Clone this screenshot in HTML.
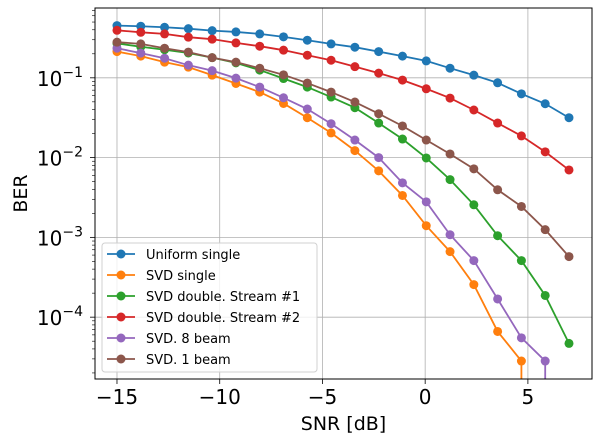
<!DOCTYPE html>
<html><head><meta charset="utf-8"><style>
body{margin:0;background:#fff;}
svg{display:block;font-family:"DejaVu Sans","Liberation Sans",sans-serif;}
</style></head><body>
<svg id="chart" width="600" height="444"></svg>
<script>
const snr = [];
for (let i = 0; i < 20; i++) snr.push(-15 + i * 22 / 19);
const seriesNames = ["Uniform single","SVD single","SVD double. Stream #1","SVD double. Stream #2","SVD. 8 beam","SVD. 1 beam"];
const colors = ["#1f77b4","#ff7f0e","#2ca02c","#d62728","#9467bd","#8c564b"];
const uniformSingle = [0.451,0.443,0.430,0.413,0.390,0.376,0.355,0.326,0.296,0.266,0.242,0.213,0.187,0.163,0.132,0.108,0.0866,0.063,0.0473,0.0316];
const svdSingle = [0.213,0.187,0.157,0.136,0.108,0.0849,0.0662,0.0477,0.0316,0.0204,0.01224,0.00682,0.00335,0.0014,0.000663,0.000256,0.0000662,0.0000282,0,0];
const svdDouble1 = [0.27,0.245,0.225,0.205,0.179,0.154,0.125,0.098,0.0765,0.0574,0.0422,0.0271,0.0171,0.0099,0.0053,0.00256,0.00105,0.000512,0.000187,0.0000469];
const svdDouble2 = [0.394,0.372,0.355,0.323,0.305,0.274,0.249,0.222,0.192,0.166,0.138,0.1145,0.0936,0.0729,0.0557,0.0395,0.0271,0.0187,0.0118,0.0070];
const svd8beam = [0.235,0.204,0.176,0.144,0.123,0.099,0.0765,0.0562,0.0406,0.0266,0.0166,0.01,0.00483,0.00279,0.00108,0.000512,0.000169,0.0000551,0.0000282,0];
const svd1beam = [0.28,0.266,0.235,0.21,0.179,0.157,0.132,0.109,0.0859,0.0662,0.0497,0.0355,0.0249,0.0166,0.0111,0.00723,0.00395,0.00244,0.00125,0.000574];
const seriesData = [uniformSingle, svdSingle, svdDouble1, svdDouble2, svd8beam, svd1beam];
const xTicks = [-15,-10,-5,0,5];
const xTickLabels = ["\u221215","\u221210","\u22125","0","5"];
const yTickExps = [-1,-2,-3,-4];

const L=95,R=592,T=8,B=379;
const xMin=-16.07,xMax=8.12;
const yLogMax=-0.125,yLogMin=-4.775;
function xs(v){return L+(v-xMin)/(xMax-xMin)*(R-L);}
function ys(v){return T+(yLogMax-Math.log10(v))/(yLogMax-yLogMin)*(B-T);}
const NS="http://www.w3.org/2000/svg";
const svg=document.getElementById('chart');
function mk(tag,attrs,parent){const e=document.createElementNS(NS,tag);for(const k in attrs)e.setAttribute(k,attrs[k]);(parent||svg).appendChild(e);return e;}

const clip=mk('clipPath',{id:'pc'});mk('rect',{x:L,y:T,width:R-L,height:B-T},clip);
xTicks.forEach((t,i)=>{
  const g=mk('line',{x1:xs(t),x2:xs(t),y1:T,y2:B,stroke:'#b0b0b0','stroke-width':0.8});
  
  
  const tk=mk('line',{x1:xs(t),x2:xs(t),y1:B,y2:B+5,stroke:'#000','stroke-width':0.8});
  
  
  const tx=mk('text',{x:xs(t),y:B+25,'font-size':20,'text-anchor':'middle'});
  tx.textContent=xTickLabels[i];
  
  
});
yTickExps.forEach(e=>{
  const y=ys(Math.pow(10,e));
  const g=mk('line',{x1:L,x2:R,y1:y,y2:y,stroke:'#b0b0b0','stroke-width':0.8});
  
  
  mk('line',{x1:L-5,x2:L,y1:y,y2:y,stroke:'#000','stroke-width':0.8});
  const tx=mk('text',{x:L-12,y:y+8,'font-size':20,'text-anchor':'end'});
  
  
  tx.appendChild(document.createTextNode('10'));
  const sp=mk('tspan',{dy:-9,'font-size':14},tx);sp.textContent='\u2212'+(-e);
});
for(let e=-5;e<=0;e++)for(let m=2;m<=9;m++){
  const v=m*Math.pow(10,e);const y=ys(v);
  if(y<T||y>B)continue;
  mk('line',{x1:L-3,x2:L,y1:y,y2:y,stroke:'#000','stroke-width':0.6});
}
const plotG=mk('g',{'clip-path':'url(#pc)'});
seriesData.forEach((d,si)=>{
  const g=mk('g',{},plotG);
  
  
  let pts=[];
  for(let i=0;i<d.length;i++){
    const v=d[i];
    if(v>0){pts.push(xs(snr[i])+','+ys(v));}
    else{ if(i>0&&d[i-1]>0){pts.push(xs(snr[i-1])+','+(B+50));} break; }
  }
  mk('polyline',{points:pts.join(' '),fill:'none',stroke:colors[si],'stroke-width':1.8},g);
  d.forEach((v,i)=>{if(v<=0)return;
    const c=mk('circle',{cx:xs(snr[i]),cy:ys(v),r:4.5,fill:colors[si]},g);
    
    
  });
});
mk('rect',{x:L,y:T,width:R-L,height:B-T,fill:'none',stroke:'#000','stroke-width':1});
const xt=mk('text',{x:(L+R)/2,y:430,'font-size':19,'text-anchor':'middle'});xt.textContent='SNR [dB]';


const yt=mk('text',{x:27,y:(T+B)/2,'font-size':19,'text-anchor':'middle',transform:'rotate(-90 27 '+((T+B)/2)+')'});yt.textContent='BER';


const lg=mk('g',{});


mk('rect',{x:102,y:243,width:215,height:129,rx:3,fill:'#fff','fill-opacity':0.8,stroke:'#d0d0d0'},lg);
seriesNames.forEach((n,i)=>{
  const y=254+i*21;
  const e=mk('g',{},lg);
  
  
  mk('line',{x1:107,x2:135,y1:y,y2:y,stroke:colors[i],'stroke-width':1.8},e);
  mk('circle',{cx:121,cy:y,r:4.5,fill:colors[i]},e);
  const t=mk('text',{x:146,y:y+5,'font-size':13},e);t.textContent=n;
});
</script>
</body></html>
